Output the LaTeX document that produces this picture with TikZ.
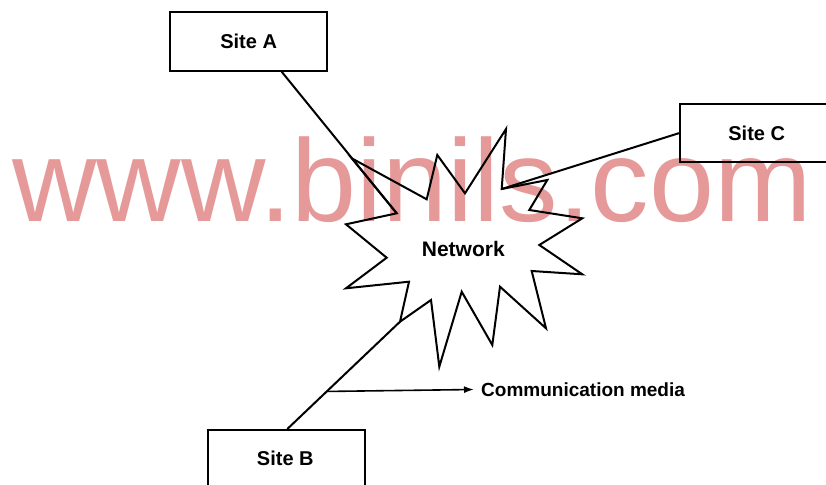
\documentclass[tikz,border=0pt]{standalone}
\usepackage{fontspec}
\setmainfont{Liberation Sans}
\usetikzlibrary{arrows.meta}
\definecolor{wmark}{RGB}{230,153,153}
\tikzset{
  sitebox/.style={draw, line width=2pt, inner sep=0pt, font=\fontsize{20}{24}\selectfont\bfseries},
  link/.style={line width=2pt},
  starline/.style={line width=2pt, line join=miter},
}
\begin{document}
\begin{tikzpicture}[x=1pt,y=-1pt]
\useasboundingbox (0,0) rectangle (826,484);
\clip (0,0) rectangle (826,484);
% watermark
\node[anchor=base west, inner sep=0pt, text=wmark, font=\fontsize{117}{124}\selectfont] (wm) at (12,221.7) {www.binils.com};
% star vertices
\coordinate (o1) at (351.7,158.3);
\coordinate (i1) at (426.7,199.3);
\coordinate (o2) at (437.3,155);
\coordinate (i2) at (465,193.3);
\coordinate (o3) at (506,129);
\coordinate (i3) at (501.7,189);
\coordinate (o4) at (547.3,180);
\coordinate (i4) at (529.3,210);
\coordinate (o5) at (582.3,218.3);
\coordinate (i5) at (539.3,245);
\coordinate (o6) at (582.3,274.3);
\coordinate (i6) at (531.7,271);
\coordinate (o7) at (546,328.3);
\coordinate (i7) at (500,286.7);
\coordinate (o8) at (492.3,345);
\coordinate (i8) at (461.7,291.7);
\coordinate (o9) at (439.3,366.7);
\coordinate (i9) at (431,300);
\coordinate (o10) at (400,321.7);
\coordinate (i10) at (409,281.7);
\coordinate (o11) at (346,288.3);
\coordinate (i11) at (386.7,257.7);
\coordinate (o12) at (346,224.3);
\coordinate (i12) at (396.7,213.3);
\draw[starline] (o1) -- (i1) -- (o2) -- (i2) -- (o3) -- (i3) -- (o4) -- (i4) -- (o5) -- (i5) -- (o6) -- (i6) -- (o7) -- (i7) -- (o8) -- (i8) -- (o9) -- (i9) -- (o10) -- (i10) -- (o11) -- (i11) -- (o12) -- (i12) -- cycle;
\node[font=\fontsize{21}{25}\selectfont\bfseries, inner sep=0pt] (net) at (463.3,249) {Network};
% sites
\node[sitebox, minimum width=157.3pt, minimum height=58.4pt] (A) at (248.65,41.5) {Site A};
\node[sitebox, minimum width=151pt, minimum height=57.7pt, anchor=north west] (C) at (679,103.3) {};
\node[font=\fontsize{20}{24}\selectfont\bfseries, inner sep=0pt] (Ct) at (756.7,133) {Site C};
\node[sitebox, minimum width=156.7pt, minimum height=62pt, anchor=north west] (B) at (207.3,429) {};
\node[font=\fontsize{20}{24}\selectfont\bfseries, inner sep=0pt] (Bt) at (285.3,458.7) {Site B};
% links
\draw[link] ([xshift=33pt]A.south) -- (i12);
\draw[link] (C.west) -- (i3);
\draw[link] ([xshift=80pt]B.north west) -- (o10) coordinate[pos=0.35] (tap);
% communication media
\node[anchor=west, inner sep=0pt, font=\fontsize{19}{23}\selectfont\bfseries] (cm) at (481,389.5) {Communication media};
\draw[link, line width=1.6pt, -{Latex[length=10pt,width=7pt]}] (tap) -- ([xshift=-7pt]cm.west);
\end{tikzpicture}
\end{document}
